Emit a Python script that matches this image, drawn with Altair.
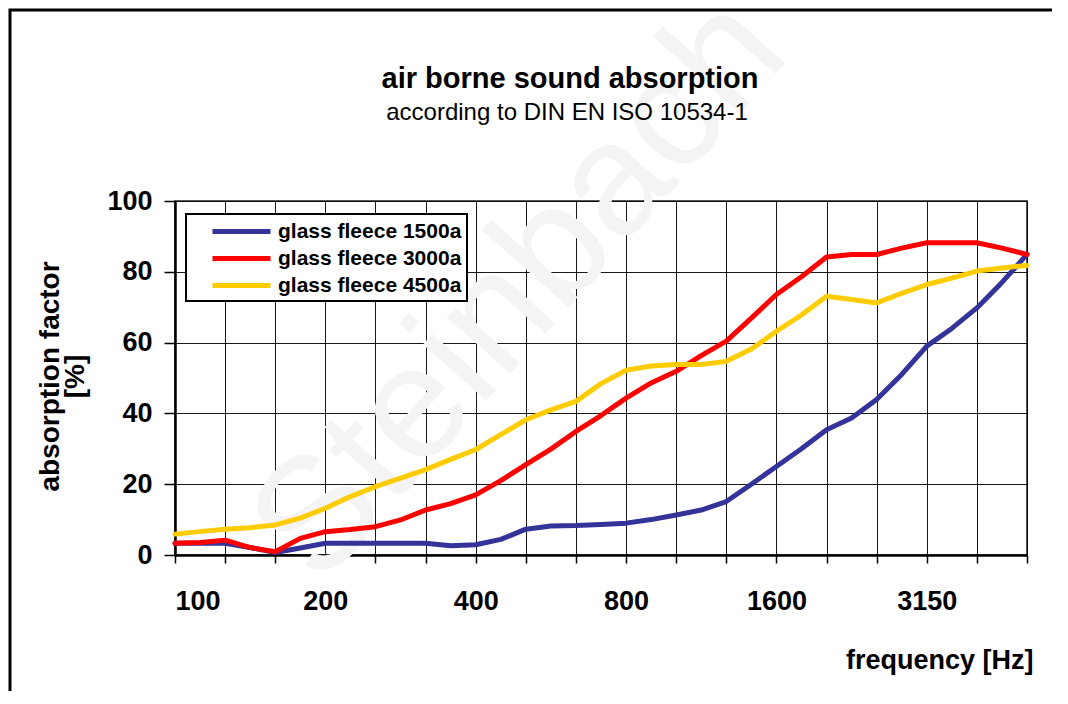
import altair as alt
import pandas as pd

# third-octave band centre frequencies (x positions are band indices 0..17)
bands = ["100", "125", "160", "200", "250", "315", "400", "500", "630",
         "800", "1000", "1250", "1600", "2000", "2500", "3150", "4000", "5000"]
band_pos = [0, 1, 2, 3, 4, 5, 6, 7, 8, 9, 10, 11, 12, 13, 14, 15, 16, 17]
tick_labels = ["100", "", "", "200", "", "", "400", "", "", "800", "", "",
               "1600", "", "", "3150", "", ""]

# sample positions (in band index units)
x_pos = [0, 0.5, 1, 1.5, 2, 2.5, 3, 3.5, 4, 4.5, 5, 5.5, 6, 6.5, 7, 7.5, 8, 8.5,
         9, 9.5, 10, 10.5, 11, 11.5, 12, 12.5, 13, 13.5, 14, 14.5, 15, 15.5,
         16, 16.5, 17]

fleece_1500a = [3.3, 3.3, 3.3, 2.1, 0.7, 2.0, 3.3, 3.3, 3.3, 3.3, 3.3, 2.6,
                2.9, 4.4, 7.3, 8.2, 8.3, 8.6, 9.0, 10.0, 11.3, 12.7, 15.1, 20.0,
                25.0, 30.0, 35.4, 38.7, 43.9, 51.0, 59.0, 64.0, 69.8, 77.0, 84.9]
fleece_3000a = [3.3, 3.5, 4.2, 2.1, 0.9, 4.7, 6.6, 7.2, 8.0, 9.9, 12.7, 14.5,
                17.0, 21.0, 25.5, 29.9, 34.9, 39.4, 44.3, 48.6, 51.9, 56.3, 60.4,
                66.9, 73.6, 78.6, 84.2, 84.9, 84.9, 86.7, 88.2, 88.2, 88.2, 86.7,
                84.9]
fleece_4500a = [5.9, 6.6, 7.3, 7.7, 8.5, 10.4, 13.2, 16.5, 19.3, 21.7, 24.1,
                27.0, 29.8, 34.0, 38.2, 41.0, 43.4, 48.4, 52.2, 53.4, 53.8, 53.8,
                54.7, 58.2, 63.2, 67.8, 73.1, 72.2, 71.2, 73.9, 76.4, 78.2, 80.2,
                81.1, 81.8]

series_names = ["glass fleece 1500a", "glass fleece 3000a", "glass fleece 4500a"]
series_colors = ["#333399", "#FF0000", "#FFCC00"]
y_ticks = [0, 20, 40, 60, 80, 100]

title_text = "air borne sound absorption"
subtitle_text = "according to DIN EN ISO 10534-1"
x_title = "frequency [Hz]"
y_title = ["absorption factor", "[%]"]
watermark_text = "Steinbach"

rows = []
for name, vals in zip(series_names, [fleece_1500a, fleece_3000a, fleece_4500a]):
    for i, (p, v) in enumerate(zip(x_pos, vals)):
        rows.append({"series": name, "pos": p, "value": v, "order": i})
df = pd.DataFrame(rows)

FONT = "Liberation Sans"
label_expr = "[" + ",".join("'%s'" % t for t in tick_labels) + "][datum.value]"

lines = alt.Chart(df).mark_line(strokeWidth=5, strokeJoin="round", strokeCap="round").encode(
    x=alt.X("pos:Q",
            scale=alt.Scale(domain=[0, 17], nice=False, zero=False),
            axis=alt.Axis(values=band_pos, labelExpr=label_expr,
                          title=x_title, tickSize=8, labelPadding=25,
                          titleFontSize=27,
                          titleX=858, titleY=113, titleAlign="right",
                          titleBaseline="alphabetic", titleAnchor="end")),
    y=alt.Y("value:Q",
            scale=alt.Scale(domain=[0, 100], nice=False),
            axis=alt.Axis(values=y_ticks, title=y_title,
                          tickSize=11, labelPadding=12, titleFontSize=28,
                          titleX=-139, titleY=175, titleAngle=270,
                          titleAlign="center", titleBaseline="top",
                          titleLineHeight=25)),
    color=alt.Color("series:N",
                    scale=alt.Scale(domain=series_names, range=series_colors),
                    legend=alt.Legend(title=None, orient="none", legendX=11, legendY=13,
                                      symbolType="M-3,0H3", symbolSize=374,
                                      symbolStrokeWidth=5, labelFont=FONT,
                                      labelFontSize=21, labelFontWeight="bold",
                                      labelColor="black", labelLimit=400,
                                      padding=5, rowPadding=4, symbolOffset=38,
                                      labelOffset=24, fillColor="white",
                                      strokeColor="black")),
    order="order:Q",
)

one = pd.DataFrame({"k": [0]})
frame = alt.Chart(one).mark_rect(fill=None, stroke="black", strokeWidth=3).encode(
    x=alt.value(-165), x2=alt.value(1000), y=alt.value(-191), y2=alt.value(700)
)

watermark = alt.Chart(pd.DataFrame({"t": [watermark_text]})).mark_text(
    font=FONT, fontSize=160, color="#f4f4f4", angle=311.5, align="center",
    baseline="middle"
).encode(text="t:N", x=alt.value(345), y=alt.value(89))

title = alt.Chart(pd.DataFrame({"t": [title_text]})).mark_text(
    font=FONT, fontSize=29, fontWeight="bold", color="black", align="center",
    baseline="alphabetic"
).encode(text="t:N", x=alt.value(395), y=alt.value(-113))

subtitle = alt.Chart(pd.DataFrame({"t": [subtitle_text]})).mark_text(
    font=FONT, fontSize=24, color="black", align="center", baseline="alphabetic"
).encode(text="t:N", x=alt.value(392), y=alt.value(-81))

chart = alt.layer(watermark, frame, title, subtitle, lines).properties(
    width=852, height=354,
    autosize=alt.AutoSizeParams(type="none"),
    padding={"left": 167, "top": 193, "right": 25, "bottom": 136},
).configure_view(
    stroke="#222222", strokeWidth=1.5
).configure_axis(
    labelFont=FONT, labelFontSize=27, labelFontWeight="bold", labelColor="black",
    titleFont=FONT, titleFontSize=25, titleFontWeight="bold", titleColor="black",
    tickColor="black", tickWidth=1.5, domainColor="black", domainWidth=2.5,
    grid=True, gridColor="#000000", gridOpacity=0.9, gridWidth=1
).configure_legend(
    strokeWidth=2
)

chart.save("out.html", embed_options={"renderer": "svg", "actions": False})
